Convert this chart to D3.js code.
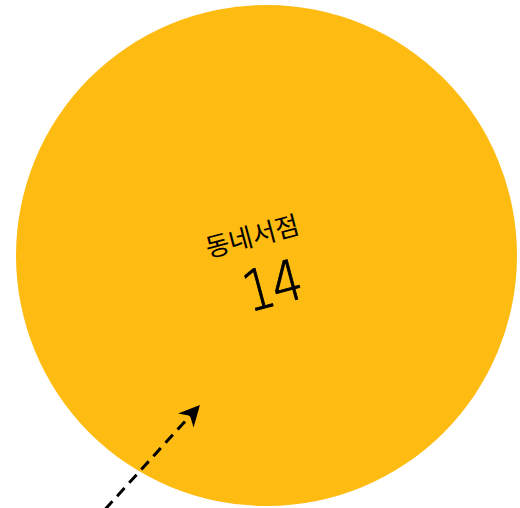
<!DOCTYPE html>
<html>
<head>
<meta charset="utf-8">
<script src="https://cdn.jsdelivr.net/npm/d3@7"></script>
<style>
  body { margin: 0; background: #fff; }
  svg { display: block; }
</style>
</head>
<body>
<div id="chart"></div>
<script>
const categories = ["동네서점"];
const values = [14];

const width = 520, height = 508;
const cx = 266.5, cy = 255.5;

const svg = d3.select("#chart")
  .append("svg")
  .attr("width", width)
  .attr("height", height);

// bubble radius from value
const r = d3.scaleSqrt()
  .domain([0, d3.max(values)])
  .range([0, 250.5]);

const data = categories.map((c, i) => ({ name: c, value: values[i] }));

svg.selectAll("circle.bubble")
  .data(data)
  .enter()
  .append("circle")
  .attr("class", "bubble")
  .attr("cx", cx)
  .attr("cy", cy)
  .attr("r", d => r(d.value))
  .attr("fill", "#febb12");

const label = svg.selectAll("g.label")
  .data(data)
  .enter()
  .append("g")
  .attr("class", "label")
  .attr("transform", `translate(${cx - 7},${cy}) rotate(-15)`);

label.append("text")
  .attr("x", -2)
  .attr("y", -11)
  .attr("text-anchor", "middle")
  .attr("font-family", "'Noto Sans CJK KR', sans-serif")
  .attr("font-size", 26)
  .attr("fill", "#000")
  .text(d => d.name);

// condensed light numerals
label.append("text")
  .attr("transform", "translate(4,52) scale(0.86,1)")
  .attr("text-anchor", "middle")
  .attr("font-family", "'DejaVu Sans', sans-serif")
  .attr("font-weight", 200)
  .attr("font-size", 56)
  .attr("letter-spacing", -2)
  .attr("fill", "#000")
  .attr("stroke", "#000")
  .attr("stroke-width", 1)
  .text(d => d.value);

// dashed pointer arrow
svg.append("defs").append("marker")
  .attr("id", "arrow")
  .attr("viewBox", "0 0 10 10")
  .attr("refX", 9)
  .attr("refY", 5)
  .attr("markerWidth", 21)
  .attr("markerHeight", 21)
  .attr("markerUnits", "userSpaceOnUse")
  .attr("orient", "auto")
  .append("path")
  .attr("d", "M0,0 L10,5 L0,10 L3,5 Z")
  .attr("fill", "#000");

svg.append("line")
  .attr("x1", cx - 161.5)
  .attr("y1", cy + 254)
  .attr("x2", cx - 68)
  .attr("y2", cy + 151)
  .attr("stroke", "#000")
  .attr("stroke-width", 3)
  .attr("stroke-dasharray", "11,7")
  .attr("marker-end", "url(#arrow)");
</script>
</body>
</html>
